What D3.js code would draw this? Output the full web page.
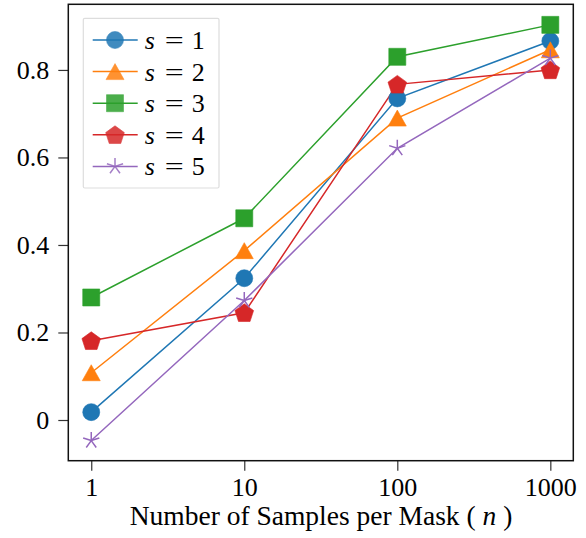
<!DOCTYPE html>
<html>
<head>
<meta charset="utf-8">
<script src="https://cdn.jsdelivr.net/npm/d3@7"></script>
<style>
  html, body { margin: 0; padding: 0; background: #fff; }
  svg { display: block; }
</style>
</head>
<body>
<div id="chart"></div>
<script>
// Data
const samples = [1, 10, 100, 1000];
const seriesNames = ['1', '2', '3', '4', '5'];
const s1 = [0.018, 0.324, 0.735, 0.866];
const s2 = [0.108, 0.387, 0.690, 0.846];
const s3 = [0.280, 0.461, 0.830, 0.903];
const s4 = [0.181, 0.245, 0.767, 0.800];
const s5 = [-0.047, 0.273, 0.621, 0.827];
const yTicks = [0, 0.2, 0.4, 0.6, 0.8];

const colors = ['#1f77b4', '#ff7f0e', '#2ca02c', '#d62728', '#9467bd'];
const markers = ['circle', 'triangle', 'square', 'pentagon', 'star'];

const series = [s1, s2, s3, s4, s5].map((vals, i) => ({
    name: seriesNames[i],
    color: colors[i],
    marker: markers[i],
    values: vals.map((v, j) => ({ n: samples[j], v: v }))
}));

// Configuration
const width = 586, height = 538;
const margin = { top: 4.3, right: 12.7, bottom: 77.3, left: 68.3 };
const innerWidth = width - margin.left - margin.right;
const innerHeight = height - margin.top - margin.bottom;
const serif = '"Liberation Serif", "Times New Roman", Times, Tinos, "DejaVu Serif", serif';

const svg = d3.select('#chart').append('svg')
    .attr('width', width)
    .attr('height', height)
    .attr('font-family', serif);

const g = svg.append('g')
    .attr('transform', `translate(${margin.left},${margin.top})`);

// Scales
const xScale = d3.scaleLog()
    .domain([0.708, 1413])
    .range([0, innerWidth]);

const yScale = d3.scaleLinear()
    .domain([-0.093, 0.950])
    .range([innerHeight, 0]);

// Marker shapes
function markerPath(type) {
    if (type === 'circle') return d3.symbol(d3.symbolCircle, Math.PI * 8.5 * 8.5)();
    if (type === 'square') return d3.symbol(d3.symbolSquare, 17 * 17)();
    if (type === 'triangle') {
        const w = 9, h = 8;
        return `M0,${-h}L${w},${h}L${-w},${h}Z`;
    }
    if (type === 'pentagon') {
        const r = 9.8;
        const pts = d3.range(5).map(k => {
            const a = -Math.PI / 2 + k * 2 * Math.PI / 5;
            return [r * Math.cos(a), r * Math.sin(a) + 0.8];
        });
        return 'M' + pts.map(p => p.join(',')).join('L') + 'Z';
    }
    if (type === 'star') {
        const r = 8.5;
        return d3.range(5).map(k => {
            const a = -Math.PI / 2 + k * 2 * Math.PI / 5;
            return `M0,0L${r * Math.cos(a)},${r * Math.sin(a)}`;
        }).join('');
    }
}

function drawMarker(sel, d) {
    const p = sel.append('path').attr('d', markerPath(d.marker));
    if (d.marker === 'star') {
        p.attr('fill', 'none')
            .attr('stroke', d.color)
            .attr('stroke-width', 1.5);
    } else {
        p.attr('fill', d.color)
            .attr('stroke', d.color)
            .attr('stroke-opacity', 0.6)
            .attr('stroke-width', 1);
    }
}

// Axes
const xAxis = g.append('g')
    .attr('transform', `translate(0,${innerHeight})`)
    .call(d3.axisBottom(xScale)
        .tickValues(samples)
        .tickFormat(d3.format('d'))
        .tickSize(10)
        .tickPadding(7));

const yAxis = g.append('g')
    .call(d3.axisLeft(yScale)
        .tickValues(yTicks)
        .tickFormat(d => d === 0 ? '0' : d3.format('.1f')(d))
        .tickSize(10)
        .tickPadding(9));

[xAxis, yAxis].forEach(ax => {
    ax.attr('font-family', serif).attr('font-size', 26);
    ax.select('.domain').remove();
    ax.selectAll('line').attr('stroke', '#333').attr('stroke-width', 1.2);
    ax.selectAll('text').attr('fill', '#000');
});

// Frame
g.append('rect')
    .attr('width', innerWidth)
    .attr('height', innerHeight)
    .attr('fill', 'none')
    .attr('stroke', '#111')
    .attr('stroke-width', 1.5);

// Lines
const line = d3.line()
    .x(d => xScale(d.n))
    .y(d => yScale(d.v));

g.selectAll('.series-line')
    .data(series)
    .join('path')
    .attr('class', 'series-line')
    .attr('d', d => line(d.values))
    .attr('fill', 'none')
    .attr('stroke', d => d.color)
    .attr('stroke-width', 1.5);

// Markers
series.forEach(s => {
    s.values.forEach(p => {
        const m = g.append('g')
            .attr('transform', `translate(${xScale(p.n)},${yScale(p.v)})`);
        drawMarker(m, s);
    });
});

// Axis label
const xLabel = svg.append('text')
    .attr('x', 321)
    .attr('y', 525)
    .attr('text-anchor', 'middle')
    .attr('font-size', 27.5)
    .attr('fill', '#000');
xLabel.append('tspan').text('Number of Samples per Mask ( ');
xLabel.append('tspan').attr('font-style', 'italic').text('n');
xLabel.append('tspan').text(' )');

// Legend
const legend = svg.append('g')
    .attr('transform', 'translate(83.3,18.3)');

legend.append('rect')
    .attr('width', 135.7)
    .attr('height', 169.7)
    .attr('rx', 1.5)
    .attr('fill', '#fff')
    .attr('stroke', '#ddd')
    .attr('stroke-width', 1.2);

const legendItems = legend.selectAll('.legend-item')
    .data(series)
    .join('g')
    .attr('class', 'legend-item')
    .attr('transform', (d, i) => `translate(0,${21.7 + i * 31.6})`);

legendItems.append('line')
    .attr('x1', 9.4)
    .attr('x2', 54.4)
    .attr('stroke', d => d.color)
    .attr('stroke-width', 1.5);

legendItems.each(function(d) {
    const m = d3.select(this).append('g')
        .attr('transform', 'translate(31.7,0)')
        .attr('opacity', 0.85);
    drawMarker(m, d);
});

const legendText = legendItems.append('text')
    .attr('y', 9)
    .attr('font-size', 26)
    .attr('fill', '#000');
legendText.append('tspan').attr('x', 61.5).attr('font-style', 'italic').text('s');
legendText.append('tspan').attr('x', 81.5)
    .attr('textLength', 19).attr('lengthAdjust', 'spacingAndGlyphs').text('=');
legendText.append('tspan').attr('x', 108.5).text(d => d.name);
</script>
</body>
</html>
